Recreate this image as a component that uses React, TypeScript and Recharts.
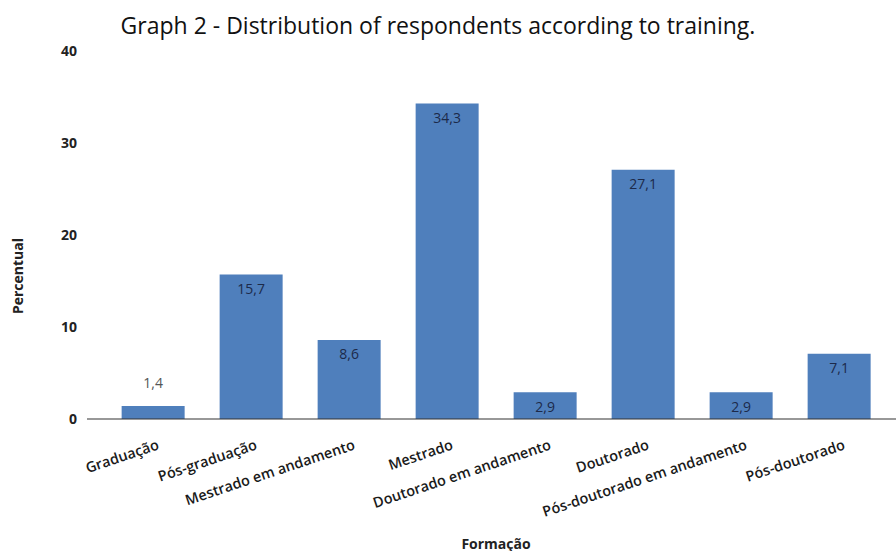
import React from 'react';
import { BarChart, Bar, XAxis, YAxis, LabelList, Customized } from 'recharts';

const categories = [
  'Graduação',
  'Pós-graduação',
  'Mestrado em andamento',
  'Mestrado',
  'Doutorado em andamento',
  'Doutorado',
  'Pós-doutorado em andamento',
  'Pós-doutorado',
];
const percentual = [1.4, 15.7, 8.6, 34.3, 2.9, 27.1, 2.9, 7.1];
const yTicks = [0, 10, 20, 30, 40];

const data = categories.map((name, i) => ({ name, value: percentual[i] }));

const FONT = '"Open Sans", "Noto Sans", sans-serif';
const BAR_COLOR = '#4F7FBC';

const fmt = (v: number) => v.toFixed(1).replace('.', ',');

const XTick = (props: any) => {
  const { x, y, payload } = props;
  return (
    <g transform={`translate(${x + 7},${y + 22})`}>
      <text
        x={0}
        y={0}
        textAnchor="end"
        transform="rotate(-18.5)"
        fontFamily={FONT}
        fontWeight={600}
        fontSize={14.5}
        fill="#1a1a1a"
      >
        {payload.value}
      </text>
    </g>
  );
};

const ValueLabel = (props: any) => {
  const { x, y, width, value } = props;
  const cx = x + width / 2;
  const small = value < 2;
  return (
    <text
      x={cx}
      y={small ? y - 24 : y + 14}
      textAnchor="middle"
      dominantBaseline="central"
      fontFamily={FONT}
      fontSize={14}
      fill={small ? '#555555' : '#1c2a4a'}
    >
      {fmt(value)}
    </text>
  );
};

const Titles = () => (
  <g>
    <text
      x={438}
      y={25}
      textAnchor="middle"
      dominantBaseline="central"
      fontFamily={FONT}
      fontSize={23}
      fill="#111"
    >
      Graph 2 - Distribution of respondents according to training.
    </text>
    <text
      x={496}
      y={543}
      textAnchor="middle"
      dominantBaseline="central"
      fontFamily={FONT}
      fontWeight={700}
      fontSize={14}
      fill="#222"
    >
      Formação
    </text>
    <text
      x={17}
      y={276}
      textAnchor="middle"
      dominantBaseline="central"
      transform="rotate(-90 17 276)"
      fontFamily={FONT}
      fontWeight={700}
      fontSize={14}
      fill="#222"
    >
      Percentual
    </text>
  </g>
);

export default function App() {
  return (
    <div style={{ position: 'absolute', left: 0, top: 0, width: 896, height: 551, background: '#fff' }}>
      <BarChart
        width={896}
        height={551}
        data={data}
        margin={{ top: 51, right: 0, bottom: 0, left: 0 }}
        barCategoryGap="18%"
      >
        <XAxis
          dataKey="name"
          interval={0}
          tickLine={false}
          axisLine={{ stroke: '#333', strokeWidth: 1.2 }}
          tick={<XTick />}
          padding={{ left: 17, right: 8 }}
          height={132}
        />
        <YAxis
          domain={[0, 40]}
          ticks={yTicks}
          width={87}
          axisLine={false}
          tickLine={false}
          tickSize={0}
          tickMargin={10}
          tick={{ fontFamily: FONT, fontWeight: 700, fontSize: 14, fill: '#222' }}
        />
        <Bar dataKey="value" fill={BAR_COLOR} isAnimationActive={false}>
          <LabelList dataKey="value" content={<ValueLabel />} />
        </Bar>
        <Customized component={<Titles />} />
      </BarChart>
    </div>
  );
}
